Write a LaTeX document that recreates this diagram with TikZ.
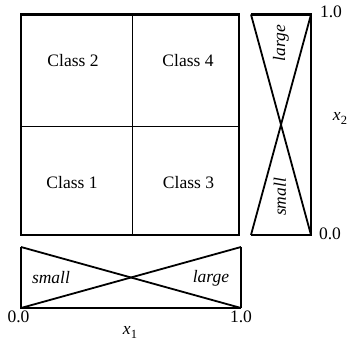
\documentclass[tikz,border=0pt]{standalone}
\usepackage{fontspec}
\setmainfont{Liberation Serif}
\newfontfamily\tms{Liberation Serif}
\begin{document}
\begin{tikzpicture}[x=1pt,y=-1pt,
  frame/.style={line width=2.5pt, line join=miter},
  divider/.style={line width=0.9pt},
  diag/.style={line width=1.8pt},
  thinedge/.style={line width=1.3pt},
  lbl/.style={inner sep=0pt, font=\tms\fontsize{17.5}{20}\selectfont},
  ilbl/.style={inner sep=0pt, font=\tms\fontsize{17.5}{20}\selectfont\itshape}]
\useasboundingbox (0,0) rectangle (349,342);
% main square
\coordinate (A) at (21,14.5);
\coordinate (B) at (239,235);
\coordinate (VT) at (132,14.5);
\coordinate (VB) at (132,235);
\coordinate (HL) at (21,126);
\coordinate (HR) at (239,126);
\draw[divider] (VT) -- (VB);
\draw[divider] (HL) -- (HR);
\draw[frame] (A) rectangle (B);
% right panel
\coordinate (RTL) at (251,14.5);
\coordinate (RTR) at (311,14.5);
\coordinate (RBL) at (251,235);
\coordinate (RBR) at (311,235);
\draw[frame] (RBL) -- (RBR) -- (RTR) -- (RTL);
\draw[diag] (RTL) -- (RBR);
\draw[diag] (RBL) -- (RTR);
% bottom panel
\coordinate (BTL) at (21,247);
\coordinate (BTR) at (241,247);
\coordinate (BBL) at (21,308);
\coordinate (BBR) at (241,308);
\draw[frame] (BTL) -- (BBL) -- (BBR);
\draw[thinedge] (BBR) -- (BTR);
\draw[diag] (BTL) -- (BBR);
\draw[diag] (BBL) -- (BTR);
% class labels
\node[lbl] (c2) at (73,61) {Class 2};
\node[lbl] (c4) at (188,61) {Class 4};
\node[lbl] (c1) at (72,182.5) {Class 1};
\node[lbl] (c3) at (188.5,182.5) {Class 3};
% panel labels
\node[ilbl] (bs) at (51,278) {small};
\node[ilbl] (bl) at (211,278) {large};
\node[ilbl, rotate=90] (rl) at (281,43) {large};
\node[ilbl, rotate=90] (rs) at (280,197) {small};
% axis numbers
\node[lbl] (r10) at (331,12) {1.0};
\node[lbl] (r00) at (330,234) {0.0};
\node[lbl] (b00) at (18.5,316.5) {0.0};
\node[lbl] (b10) at (241,316.5) {1.0};
\node[lbl, anchor=base] (x1) at (130,335) {\textit{x}\raisebox{-0.22em}{\fontsize{12.5}{12.5}\selectfont 1}};
\node[lbl, anchor=base] (x2) at (340,121) {\textit{x}\raisebox{-0.22em}{\fontsize{12.5}{12.5}\selectfont 2}};
\end{tikzpicture}
\end{document}
